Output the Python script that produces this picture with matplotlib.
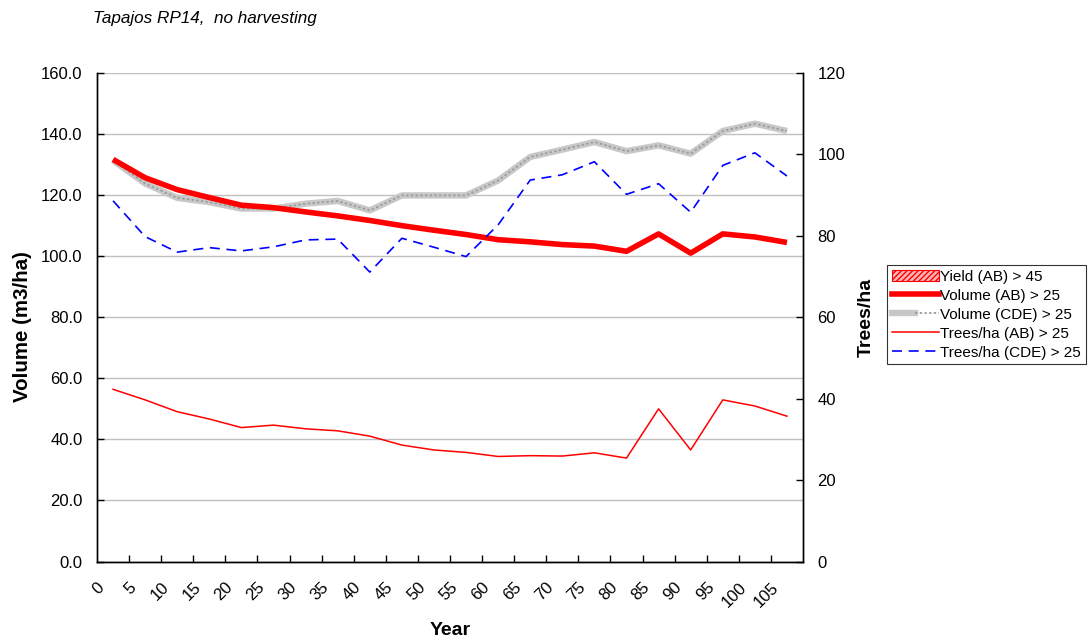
import matplotlib
matplotlib.use("Agg")
import matplotlib.pyplot as plt
from matplotlib.lines import Line2D
from matplotlib.patches import Patch
from matplotlib.legend_handler import HandlerTuple
from matplotlib.transforms import ScaledTranslation
import numpy as np

plt.rcParams['font.family'] = ['Liberation Sans', 'DejaVu Sans']

years = [0, 5, 10, 15, 20, 25, 30, 35, 40, 45, 50, 55, 60, 65, 70, 75, 80, 85, 90, 95, 100, 105]

volume_ab = [131.7, 125.7, 121.8, 119.2, 116.7, 115.9, 114.5, 113.2, 111.7, 110.0, 108.5,
             107.1, 105.4, 104.7, 103.8, 103.3, 101.6, 107.3, 101.0, 107.3, 106.3, 104.5]
volume_cde = [131.4, 123.8, 119.1, 117.7, 115.6, 115.6, 117.2, 118.1, 115.0, 119.9, 119.9,
              119.9, 124.8, 132.5, 134.9, 137.4, 134.4, 136.3, 133.6, 141.0, 143.4, 141.0]
trees_ab = [42.3, 39.7, 36.8, 35.0, 32.9, 33.5, 32.6, 32.1, 30.8, 28.6, 27.4,
            26.8, 25.8, 26.0, 25.9, 26.7, 25.4, 37.5, 27.4, 39.7, 38.2, 35.7]
trees_cde = [88.6, 79.8, 76.0, 77.1, 76.3, 77.3, 79.0, 79.2, 71.1, 79.4, 77.2,
             74.9, 82.7, 93.7, 95.0, 98.2, 90.2, 92.8, 85.8, 97.3, 100.4, 94.7]

x = np.arange(len(years))

fig = plt.figure(figsize=(10.88, 6.42), dpi=100)
ax = fig.add_axes([97/1088, 1 - 561.5/642, 706/1088, (561.5 - 73)/642])
ax2 = ax.twinx()

ax.set_xlim(-0.5, len(years) - 0.5)
ax.set_ylim(0, 160)
ax2.set_ylim(0, 120)

# horizontal gridlines for the volume axis
ax.set_yticks(np.arange(0, 161, 20))
ax.yaxis.grid(True, color='#c0c0c0', linewidth=1.0)
ax.set_axisbelow(True)
ax.set_yticklabels([f"{v:.1f}" for v in np.arange(0, 161, 20)])
ax2.set_yticks(np.arange(0, 121, 20))

# volume series
GRAY_LW = 4.6
ax.plot(x, volume_cde, color='#c8c8c8', linewidth=GRAY_LW, solid_capstyle='butt', zorder=3)
ax.plot(x, volume_cde, color='#9c9c9c', linewidth=1.3, dashes=(1.3, 1.3), zorder=3.1)
ax.plot(x, volume_ab, color='#ff0000', linewidth=4.0, solid_capstyle='butt', zorder=4)

# trees per hectare series
ax2.plot(x, trees_ab, color='#ff0000', linewidth=1.1)
ax2.plot(x, trees_cde, color='#0000ff', linewidth=1.2, dashes=(6, 4))

# category axis: ticks between categories, labels centred
ax.set_xticks(x)
ax.set_xticklabels([str(y) for y in years], rotation=45, ha='right', va='center',
                   rotation_mode='anchor')
ax.set_xticks(np.arange(0.5, len(years) - 0.5, 1), minor=True)
ax.tick_params(axis='x', which='major', length=0, pad=17, labelsize=12)
ax.tick_params(axis='x', which='minor', direction='in', length=5, width=1)
ax.tick_params(axis='y', direction='in', length=5, width=1, labelsize=12, pad=10.5)
ax2.tick_params(axis='y', direction='in', length=5, width=1, labelsize=12, pad=10.5)
shift = ScaledTranslation(-11/100, 0, fig.dpi_scale_trans)
for lbl in ax.get_xticklabels():
    lbl.set_transform(lbl.get_transform() + shift)

for a in (ax, ax2):
    for s in a.spines.values():
        s.set_linewidth(1.0)
        s.set_color('black')
ax.spines['top'].set_visible(False)
ax2.spines['top'].set_visible(False)

ax.set_xlabel('Year', fontsize=14, fontweight='bold')
ax.xaxis.set_label_coords(0.5, -(622 - 561.5) / 488.5)
ax.set_ylabel('Volume (m3/ha)', fontsize=14.8, fontweight='bold')
ax.yaxis.set_label_coords((32 - 97) / 706, (561.5 - 326.5) / 488.5)
ax2.set_ylabel('Trees/ha', fontsize=14, fontweight='bold')
ax2.yaxis.set_label_coords((858 - 97) / 706, (561.5 - 317) / 488.5)

fig.text(93/1088, 1 - 19/642, 'Tapajos RP14,  no harvesting', fontsize=12.3,
         style='italic', va='center', ha='left')

yield_patch = Patch(facecolor='#f7b5b5', edgecolor='#ff0000', hatch='//////', linewidth=0.8)
gray_handle = (Line2D([], [], color='#c8c8c8', linewidth=GRAY_LW),
               Line2D([], [], color='#9c9c9c', linewidth=1.3, dashes=(1.3, 1.3)))
handles = [yield_patch, Line2D([], [], color='#ff0000', linewidth=4.0), gray_handle,
           Line2D([], [], color='#ff0000', linewidth=1.1),
           Line2D([], [], color='#0000ff', linewidth=1.2, dashes=(6, 4))]
labels = ['Yield (AB) > 45', 'Volume (AB) > 25', 'Volume (CDE) > 25',
          'Trees/ha (AB) > 25', 'Trees/ha (CDE) > 25']
leg = fig.legend(handles, labels, loc='upper left', bbox_to_anchor=(887/1088, 1 - 265/642),
                 borderaxespad=0, frameon=True, fancybox=False, edgecolor='black',
                 fontsize=11, handlelength=3.1, handletextpad=0.1, labelspacing=0.33,
                 borderpad=0.3, handler_map={tuple: HandlerTuple(ndivide=None, pad=0)})
leg.get_frame().set_linewidth(0.8)

fig.savefig('out.png', dpi=100)
